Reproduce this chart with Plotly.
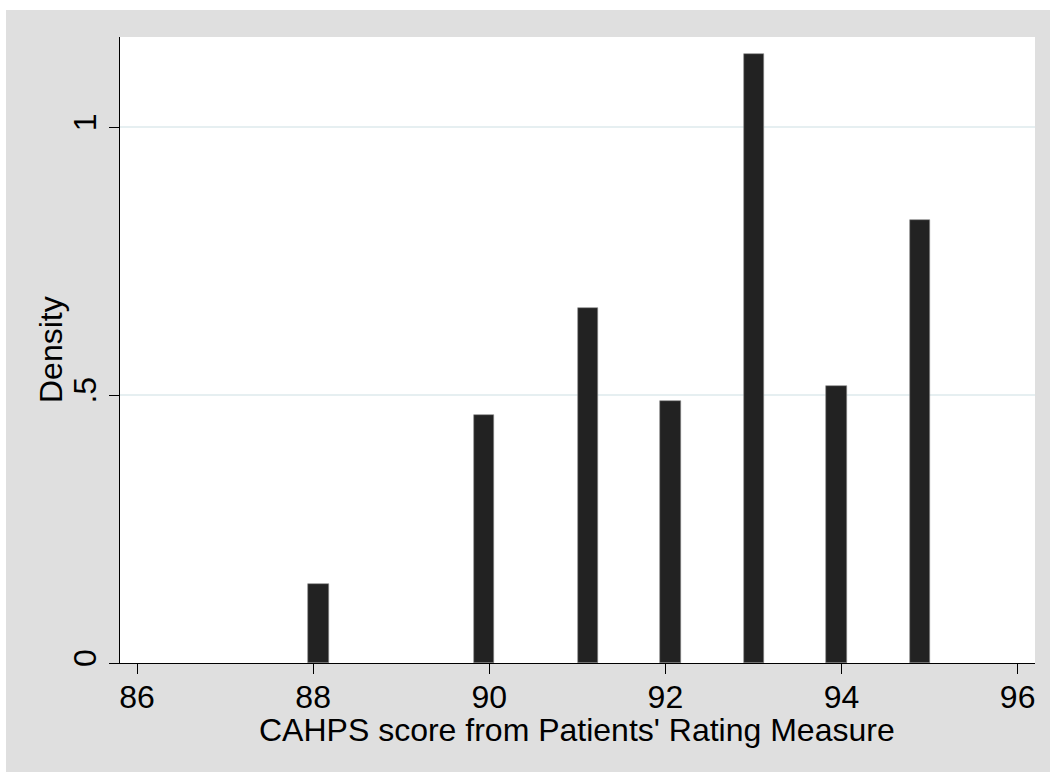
import plotly.graph_objects as go

# Histogram bins (centers), density heights, bin width
bin_centers = [88.06, 89.94, 91.12, 92.06, 93.005, 93.94, 94.89]
densities = [0.147, 0.463, 0.663, 0.489, 1.136, 0.517, 0.826]
bin_width = 0.2355

x_ticks = [86, 88, 90, 92, 94, 96]
y_ticks = [0, 0.5, 1]
y_tick_text = ["0", ".5", "1"]

x_title = "CAHPS score from Patients' Rating Measure"
y_title = "Density"

FONT = "Liberation Sans, Arial, Helvetica, sans-serif"
FS = 32

fig = go.Figure()
fig.add_trace(go.Bar(
    x=bin_centers, y=densities, width=bin_width,
    marker=dict(color="#222222", line=dict(color="#8a8a8a", width=0.6)),
    showlegend=False,
))

fig.update_layout(
    width=1050, height=772,
    margin=dict(l=120, r=15, t=37, b=109),
    paper_bgcolor="#DFDFDF",
    plot_bgcolor="#FFFFFF",
    font=dict(family=FONT, size=FS, color="#000000"),
    bargap=0,
    shapes=[
        dict(type="rect", xref="paper", yref="paper",
             x0=-0.2, x1=1.1, y0=(663 - 10) / 626, y1=1.2,
             fillcolor="#FFFFFF", line=dict(width=0), layer="below"),
        dict(type="rect", xref="paper", yref="paper",
             x0=-0.2, x1=(6 - 120) / 915, y0=-0.3, y1=1.2,
             fillcolor="#FFFFFF", line=dict(width=0), layer="below"),
    ],
    annotations=[
        dict(text=x_title, xref="paper", yref="paper",
             x=0.4995, y=(663 - 730) / 626, xanchor="center", yanchor="middle",
             showarrow=False, font=dict(size=FS)),
        dict(text=y_title, xref="paper", yref="paper",
             x=(51 - 120) / 915, y=0.5, xanchor="center", yanchor="middle",
             textangle=-90, showarrow=False, font=dict(size=FS)),
    ],
)

fig.update_xaxes(
    range=[85.807, 96.197],
    tickvals=x_ticks,
    ticks="outside", ticklen=10, tickwidth=1.2, tickcolor="#000000",
    showline=True, linecolor="#000000", linewidth=1.2,
    showgrid=False, zeroline=False,
    tickfont=dict(size=FS),
    ticklabelstandoff=-5,
)
fig.update_yaxes(
    range=[0, 1.168],
    tickvals=y_ticks, ticktext=y_tick_text, tickangle=-90,
    ticks="outside", ticklen=10, tickwidth=1.2, tickcolor="#000000",
    showline=True, linecolor="#000000", linewidth=1.2,
    showgrid=True, gridcolor="#E6EFF1", gridwidth=1.5,
    zeroline=False,
    tickfont=dict(size=FS),
)

fig.write_html("out.html")
